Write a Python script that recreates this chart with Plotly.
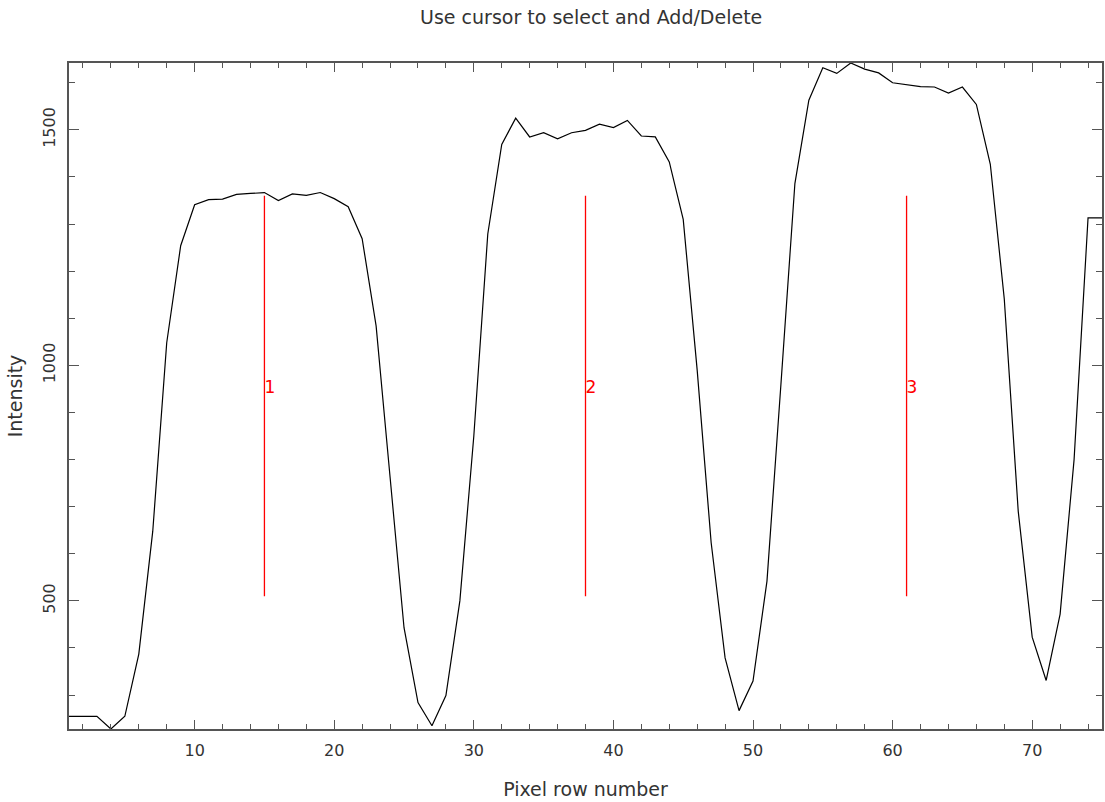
import plotly.graph_objects as go

# ---- data ----
pixel_row = list(range(1, 76))
intensity = [
    255, 255, 255, 228, 255, 387, 648, 1048, 1254, 1341,
    1352, 1353, 1363, 1365, 1367, 1350, 1364, 1361, 1367, 1354,
    1337, 1269, 1084, 763, 443, 284, 235, 299, 500, 850,
    1279, 1469, 1525, 1485, 1494, 1481, 1494, 1499, 1512, 1505,
    1520, 1487, 1485, 1432, 1310, 990, 624, 379, 267, 330,
    542, 960, 1386, 1563, 1632, 1620, 1642, 1629, 1621, 1600,
    1596, 1592, 1591, 1578, 1591, 1554, 1427, 1141, 690, 423,
    331, 472, 800, 1313, 1313,
]
marker_pos = [15, 38, 61]
marker_labels = ["1", "2", "3"]
marker_top = 1360
marker_bottom = 510
marker_label_y = 950

x_ticks = [10, 20, 30, 40, 50, 60, 70]
y_ticks = [500, 1000, 1500]

FONT = "DejaVu Sans, sans-serif"
AX = "#555555"
TXT = "#333333"

fig = go.Figure()
fig.add_trace(go.Scatter(x=pixel_row, y=intensity, mode="lines",
                         line=dict(color="black", width=1.2), showlegend=False))

mx, my = [], []
for p in marker_pos:
    mx += [p, p, None]
    my += [marker_top, marker_bottom, None]
fig.add_trace(go.Scatter(x=mx, y=my, mode="lines",
                         line=dict(color="red", width=1.3), showlegend=False))
fig.add_trace(go.Scatter(x=marker_pos, y=[marker_label_y] * len(marker_pos),
                         mode="text", text=marker_labels, textposition="middle right",
                         textfont=dict(color="red", size=17, family=FONT), showlegend=False))

common = dict(showgrid=False, zeroline=False, showline=True, linecolor=AX, linewidth=1.5,
              mirror="ticks", ticks="inside", tickcolor=AX, tickwidth=1.2,
              tickfont=dict(family=FONT, size=16, color=TXT))

fig.update_layout(
    width=1105, height=802,
    margin=dict(l=69, r=1, t=63, b=73),
    paper_bgcolor="white", plot_bgcolor="white",
    title=dict(text="Use cursor to select and Add/Delete", x=0.535, xref="container",
               y=1 - 17 / 802, yref="container", xanchor="center", yanchor="middle",
               font=dict(family=FONT, size=19, color=TXT)),
    xaxis=dict(range=[1, 75], tickvals=x_ticks, ticklen=9,
               minor=dict(dtick=2, tick0=0, ticklen=5, ticks="inside", tickcolor=AX),
               ticklabelstandoff=6,
               title=dict(text="Pixel row number", standoff=24,
                          font=dict(family=FONT, size=19, color=TXT)),
               **common),
    yaxis=dict(range=[min(intensity), max(intensity)], tickvals=y_ticks, ticklen=10,
               tickangle=-90,
               minor=dict(dtick=100, tick0=0, ticklen=6, ticks="inside", tickcolor=AX),
               ticklabelstandoff=6,
               title=dict(text="Intensity", standoff=12,
                          font=dict(family=FONT, size=19, color=TXT)),
               **common),
)

# remove the default page margin so the figure fills the window exactly
fig.write_html(
    "out.html",
    config={"displayModeBar": False},
    post_script="document.body.style.margin='0';document.body.style.overflow='hidden';"
                "document.documentElement.style.overflow='hidden';",
)
